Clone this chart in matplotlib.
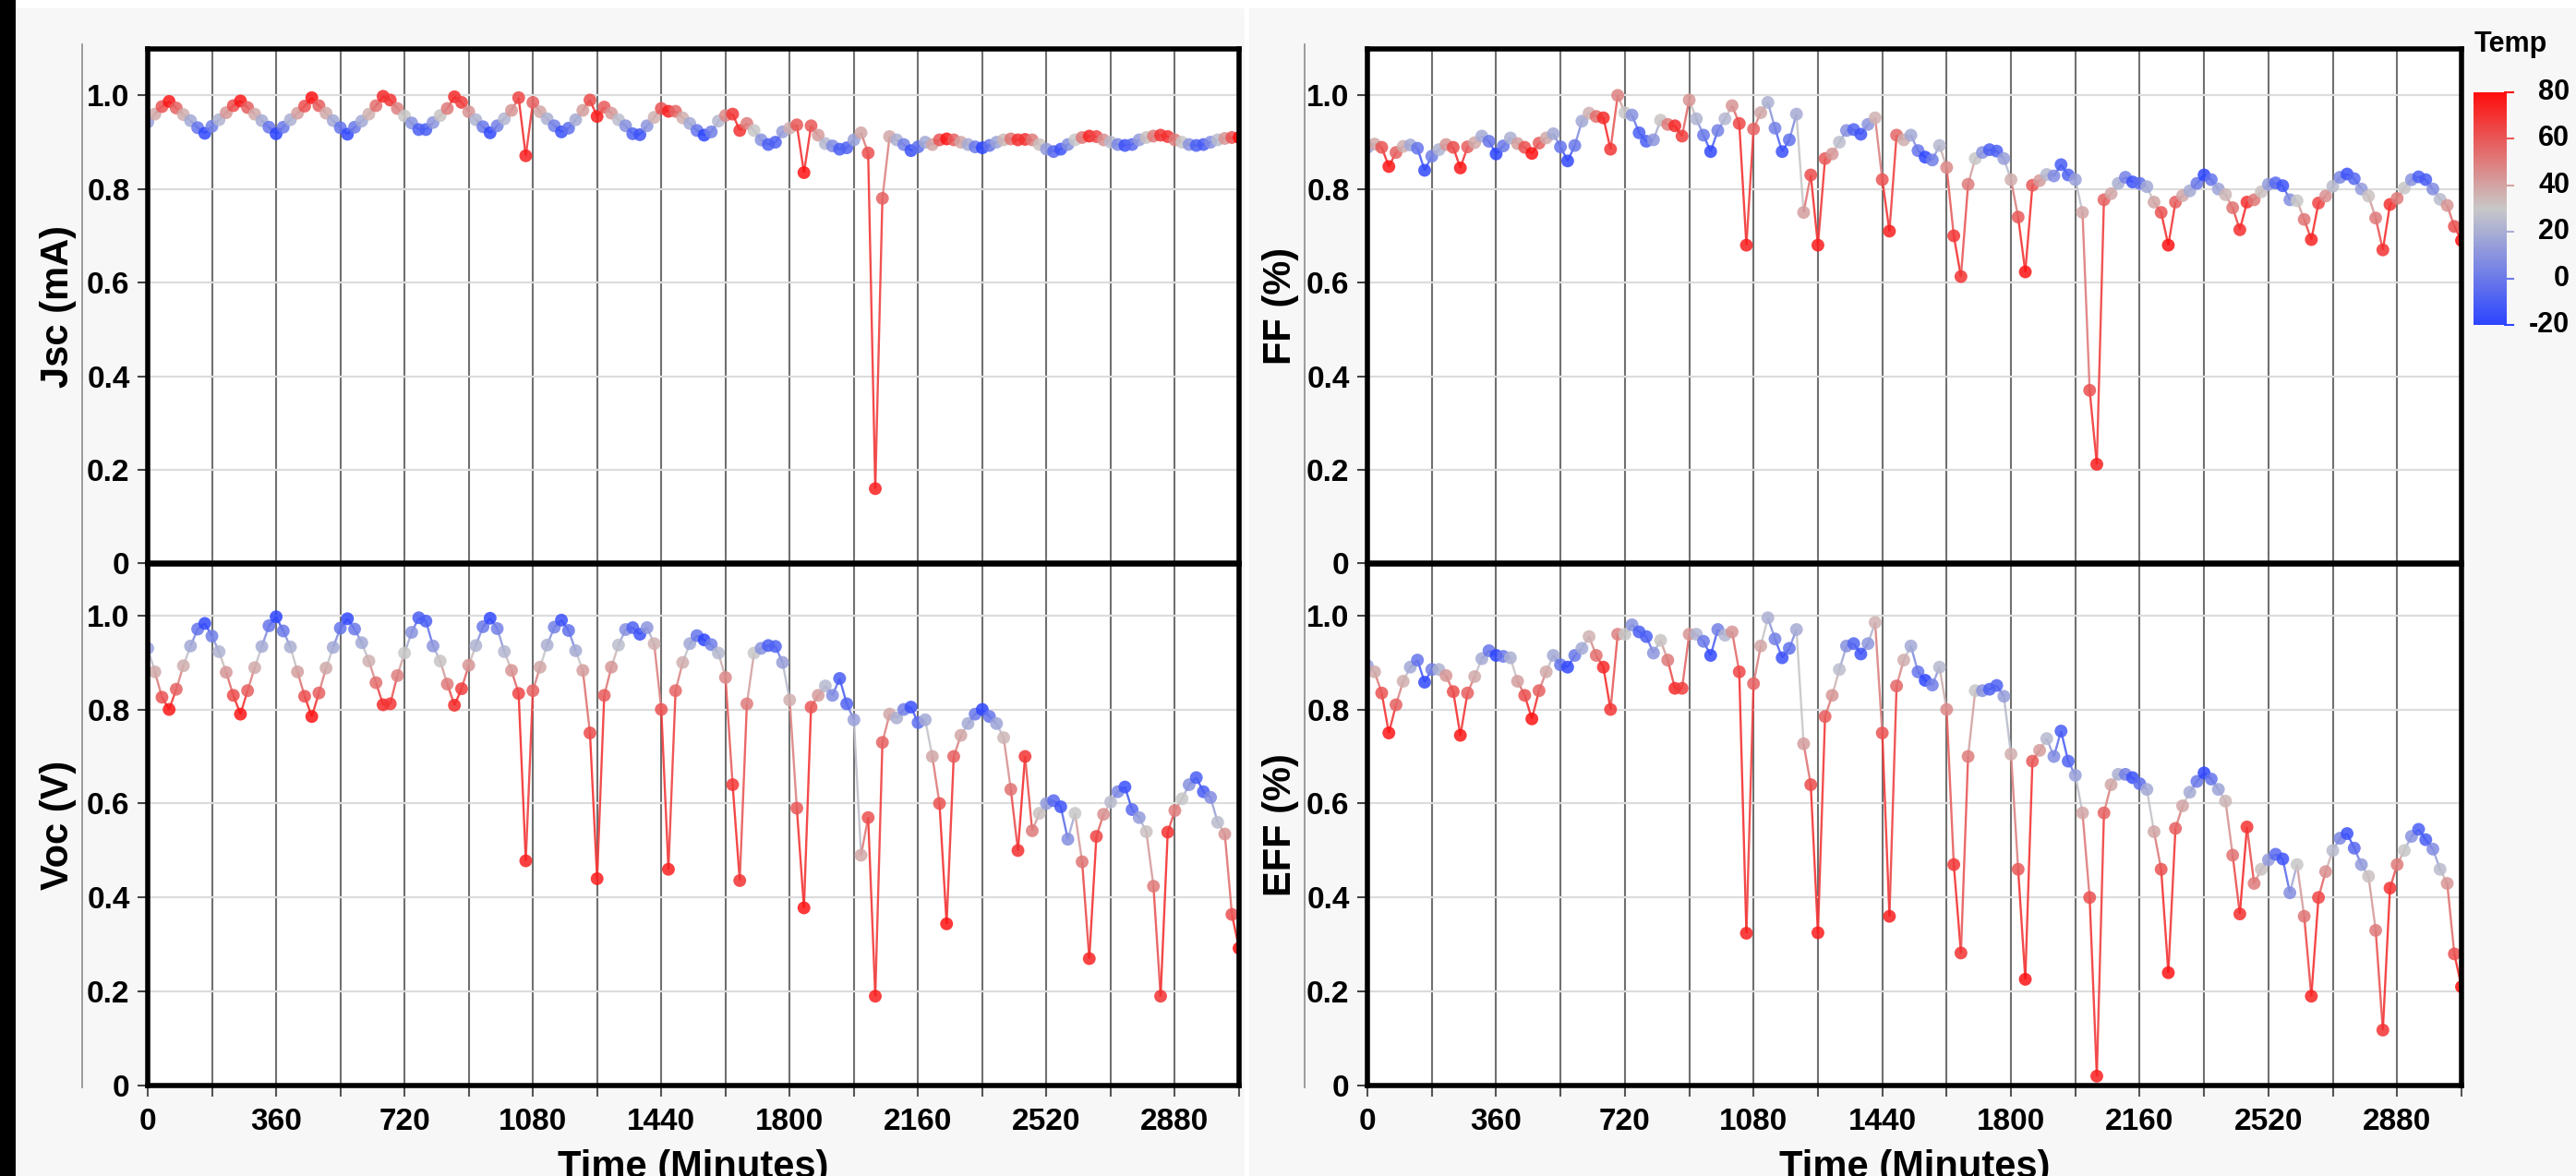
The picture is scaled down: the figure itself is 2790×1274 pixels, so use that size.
import numpy as np
import matplotlib
matplotlib.use("Agg")
import matplotlib.pyplot as plt
from matplotlib.collections import LineCollection
from matplotlib.colors import LinearSegmentedColormap, Normalize
from matplotlib.cm import ScalarMappable
from matplotlib.lines import Line2D
from matplotlib.patches import Rectangle
import matplotlib.transforms as mtransforms

# ---------------------------------------------------------------- data
# sampling times (minutes)
minutes = np.arange(0, 3061, 20)

# cell temperature (deg C) at each sample
temp = [
    15, 38, 61, 77, 57, 37, 18, -2, -18, 2,
    22, 43, 63, 77, 58, 38, 19, -1, -20, 0,
    21, 41, 62, 78, 58, 38, 18, -2, -18, 0,
    18, 36, 54, 72, 69, 49, 30, 10, -10, -10,
    11, 31, 51, 72, 67, 44, 22, 0, -18, 3,
    23, 44, 65, 75, 57, 39, 21, 3, -15, -3,
    19, 41, 63, 76, 59, 43, 26, 9, -8, -14,
    11, 36, 61, 75, 56, 37, 18, -1, -20, 2,
    24, 47, 69, 70, 50, 30, 10, -10, -9, 14,
    37, 60, 78, 60, 42, 24, 7, -11, -8, 15,
    39, 62, 75, 57, 39, 21, 3, -15, -4, 18,
    39, 61, 78, 58, 39, 19, 0, -20, -2, 16,
    35, 53, 71, 70, 51, 32, 13, -6, -14, 8,
    30, 52, 74, 65, 45, 25, 5, -15, -6, 13,
    32, 51, 70, 70, 50, 30, 10, -10, -11, 7,
    25, 44, 62, 80,
]

# normalised short-circuit current
jsc = [
    0.943, 0.960, 0.976, 0.987, 0.973, 0.959, 0.946, 0.931, 0.919, 0.934,
    0.948, 0.963, 0.978, 0.988, 0.974, 0.960, 0.946, 0.932, 0.918, 0.932,
    0.948, 0.962, 0.977, 0.995, 0.978, 0.962, 0.946, 0.931, 0.917, 0.932,
    0.945, 0.960, 0.978, 0.998, 0.990, 0.972, 0.956, 0.941, 0.927, 0.927,
    0.942, 0.957, 0.972, 0.997, 0.985, 0.965, 0.948, 0.933, 0.920, 0.935,
    0.950, 0.968, 0.995, 0.871, 0.985, 0.965, 0.950, 0.935, 0.922, 0.930,
    0.948, 0.968, 0.990, 0.955, 0.975, 0.962, 0.948, 0.935, 0.918, 0.916,
    0.935, 0.953, 0.972, 0.966, 0.966, 0.952, 0.940, 0.925, 0.915, 0.922,
    0.945, 0.957, 0.960, 0.925, 0.940, 0.925, 0.905, 0.895, 0.900, 0.922,
    0.930, 0.937, 0.835, 0.935, 0.915, 0.897, 0.892, 0.885, 0.888, 0.905,
    0.920, 0.877, 0.160, 0.780, 0.912, 0.905, 0.895, 0.882, 0.890, 0.900,
    0.895, 0.905, 0.907, 0.905, 0.900, 0.895, 0.890, 0.888, 0.893, 0.900,
    0.905, 0.907, 0.905, 0.906, 0.905, 0.895, 0.885, 0.880, 0.885, 0.895,
    0.905, 0.910, 0.913, 0.912, 0.905, 0.900, 0.895, 0.893, 0.895, 0.905,
    0.910, 0.913, 0.915, 0.912, 0.905, 0.900, 0.895, 0.893, 0.895, 0.900,
    0.905, 0.908, 0.910, 0.910,
]

# normalised open-circuit voltage
voc = [
    0.930, 0.880, 0.826, 0.800, 0.843, 0.893, 0.935, 0.971, 0.983, 0.956,
    0.923, 0.879, 0.830, 0.790, 0.840, 0.889, 0.934, 0.978, 0.997, 0.967,
    0.933, 0.880, 0.828, 0.785, 0.835, 0.888, 0.932, 0.973, 0.993, 0.971,
    0.942, 0.903, 0.857, 0.810, 0.812, 0.872, 0.920, 0.964, 0.995, 0.988,
    0.935, 0.903, 0.854, 0.809, 0.844, 0.894, 0.936, 0.976, 0.994, 0.972,
    0.923, 0.883, 0.834, 0.478, 0.840, 0.890, 0.937, 0.975, 0.990, 0.968,
    0.925, 0.883, 0.750, 0.440, 0.830, 0.890, 0.937, 0.970, 0.974, 0.960,
    0.974, 0.940, 0.800, 0.460, 0.840, 0.900, 0.940, 0.957, 0.948, 0.938,
    0.920, 0.868, 0.640, 0.436, 0.812, 0.920, 0.930, 0.936, 0.934, 0.900,
    0.820, 0.590, 0.378, 0.805, 0.830, 0.850, 0.830, 0.866, 0.812, 0.778,
    0.490, 0.570, 0.190, 0.730, 0.790, 0.782, 0.800, 0.805, 0.772, 0.778,
    0.700, 0.600, 0.344, 0.700, 0.745, 0.770, 0.790, 0.800, 0.785, 0.770,
    0.740, 0.630, 0.500, 0.700, 0.542, 0.579, 0.600, 0.606, 0.593, 0.524,
    0.579, 0.476, 0.270, 0.530, 0.577, 0.603, 0.625, 0.635, 0.587, 0.570,
    0.540, 0.424, 0.190, 0.539, 0.585, 0.610, 0.640, 0.655, 0.625, 0.613,
    0.560, 0.535, 0.364, 0.292,
]

# normalised fill factor
ff = [
    0.889, 0.896, 0.889, 0.848, 0.878, 0.891, 0.894, 0.887, 0.840, 0.870,
    0.884, 0.895, 0.889, 0.845, 0.890, 0.899, 0.913, 0.902, 0.875, 0.892,
    0.909, 0.897, 0.889, 0.876, 0.898, 0.909, 0.918, 0.890, 0.860, 0.893,
    0.945, 0.962, 0.955, 0.952, 0.885, 1.000, 0.963, 0.958, 0.920, 0.902,
    0.905, 0.947, 0.938, 0.935, 0.913, 0.990, 0.950, 0.915, 0.880, 0.925,
    0.950, 0.978, 0.940, 0.680, 0.928, 0.963, 0.985, 0.930, 0.880, 0.905,
    0.960, 0.750, 0.830, 0.680, 0.865, 0.875, 0.900, 0.925, 0.927, 0.917,
    0.938, 0.952, 0.820, 0.710, 0.915, 0.905, 0.915, 0.882, 0.868, 0.862,
    0.893, 0.846, 0.700, 0.613, 0.810, 0.865, 0.878, 0.884, 0.881, 0.865,
    0.820, 0.740, 0.623, 0.808, 0.818, 0.831, 0.828, 0.852, 0.830, 0.820,
    0.750, 0.370, 0.212, 0.777, 0.790, 0.812, 0.825, 0.815, 0.812, 0.805,
    0.772, 0.750, 0.680, 0.772, 0.786, 0.796, 0.812, 0.830, 0.820, 0.800,
    0.788, 0.760, 0.713, 0.772, 0.777, 0.794, 0.810, 0.813, 0.807, 0.777,
    0.775, 0.735, 0.692, 0.770, 0.785, 0.806, 0.825, 0.832, 0.822, 0.800,
    0.785, 0.738, 0.670, 0.767, 0.780, 0.802, 0.820, 0.826, 0.820, 0.800,
    0.778, 0.765, 0.720, 0.690,
]

# normalised efficiency
eff = [
    0.893, 0.880, 0.835, 0.750, 0.810, 0.860, 0.890, 0.905, 0.858, 0.885,
    0.885, 0.872, 0.838, 0.745, 0.835, 0.870, 0.908, 0.925, 0.915, 0.913,
    0.910, 0.860, 0.830, 0.780, 0.840, 0.880, 0.915, 0.895, 0.890, 0.915,
    0.930, 0.955, 0.915, 0.890, 0.800, 0.960, 0.960, 0.980, 0.965, 0.955,
    0.920, 0.947, 0.905, 0.845, 0.845, 0.960, 0.960, 0.945, 0.915, 0.970,
    0.958, 0.965, 0.880, 0.324, 0.855, 0.935, 0.995, 0.950, 0.910, 0.930,
    0.970, 0.727, 0.640, 0.325, 0.785, 0.830, 0.885, 0.935, 0.940, 0.918,
    0.940, 0.985, 0.750, 0.360, 0.850, 0.905, 0.935, 0.880, 0.862, 0.852,
    0.890, 0.800, 0.470, 0.282, 0.700, 0.840, 0.840, 0.843, 0.851, 0.828,
    0.705, 0.460, 0.226, 0.690, 0.713, 0.738, 0.700, 0.754, 0.690, 0.660,
    0.580, 0.400, 0.020, 0.580, 0.640, 0.662, 0.662, 0.655, 0.642, 0.630,
    0.540, 0.460, 0.240, 0.547, 0.595, 0.624, 0.647, 0.665, 0.652, 0.630,
    0.605, 0.490, 0.365, 0.550, 0.430, 0.460, 0.480, 0.492, 0.482, 0.410,
    0.470, 0.360, 0.190, 0.400, 0.455, 0.500, 0.526, 0.536, 0.505, 0.470,
    0.445, 0.330, 0.118, 0.420, 0.470, 0.500, 0.530, 0.545, 0.523, 0.503,
    0.460, 0.430, 0.280, 0.210,
]

xtick_pos = [0, 360, 720, 1080, 1440, 1800, 2160, 2520, 2880]
xtick_labels = ["0", "360", "720", "1080", "1440", "1800", "2160", "2520", "2880"]
ytick_pos = [0, 0.2, 0.4, 0.6, 0.8, 1.0]
ytick_labels = ["0", "0.2", "0.4", "0.6", "0.8", "1.0"]
cbar_ticks = [80, 60, 40, 20, 0, -20]

for name, arr in (("temp", temp), ("jsc", jsc), ("voc", voc), ("ff", ff), ("eff", eff)):
    assert len(arr) == len(minutes), (name, len(arr), len(minutes))

# ---------------------------------------------------------------- style
plt.rcParams["font.family"] = ["Liberation Sans", "DejaVu Sans"]
plt.rcParams["font.weight"] = "bold"

W, H, DPI = 2790, 1274, 100
fig = plt.figure(figsize=(W / DPI, H / DPI), dpi=DPI, facecolor="white")


def box(x0, y0, x1, y1):
    """pixel box (top-left origin) -> figure fraction [l, b, w, h]"""
    return [x0 / W, 1 - y1 / H, (x1 - x0) / W, (y1 - y0) / H]


def fx(x):
    return x / W


def fy(y):
    return 1 - y / H


# page background
for (x0, y0, x1, y1, col) in [(0, 0, 17, H, "black"),
                              (17, 9, 1348, H, "#f7f7f7"),
                              (1353, 9, W, H, "#f7f7f7")]:
    fig.add_artist(Rectangle((fx(x0), fy(y1)), (x1 - x0) / W, (y1 - y0) / H,
                             transform=fig.transFigure, facecolor=col,
                             edgecolor="none", zorder=-10))

# thin outer guide lines beside each column
for gx in (89, 1413):
    fig.add_artist(Line2D([fx(gx), fx(gx)], [fy(48), fy(1178)],
                          transform=fig.transFigure, color="#8c8c8c", lw=1.2))

cmap = LinearSegmentedColormap.from_list("temp", ["#2d45ff", "#c8c8c8", "#ff0d0d"])
norm = Normalize(vmin=-20, vmax=80)
temp_arr = np.asarray(temp, dtype=float)
grid_minor = np.arange(180, 3061, 360)


def panel(rect, values, ytop, bottom_labels):
    ax = fig.add_axes(rect)
    ax.set_facecolor("white")
    ax.set_xlim(0, 3060)
    ax.set_ylim(0, ytop)
    ax.set_axisbelow(True)

    ax.set_xticks(xtick_pos, xtick_labels if bottom_labels else [""] * len(xtick_pos))
    ax.set_xticks(grid_minor, minor=True)
    ax.set_yticks(ytick_pos, ytick_labels)
    ax.grid(which="both", axis="x", color="#707070", lw=1.5)
    ax.grid(which="major", axis="y", color="#dcdcdc", lw=1.6)

    tick_len = 8.6 if bottom_labels else 0
    ax.tick_params(axis="x", which="both", length=tick_len, width=1.5,
                   color="#555555", labelsize=24, pad=8.6)
    ax.tick_params(axis="y", length=8.0, width=1.5, color="#444444",
                   labelsize=24, pad=6.0)
    for lab in ax.get_xticklabels() + ax.get_yticklabels():
        lab.set_fontweight("bold")

    for sp in ax.spines.values():
        sp.set_linewidth(4.0)
        sp.set_color("black")

    y = np.asarray(values, dtype=float)
    pts = np.column_stack([minutes, y])
    segs = np.stack([pts[:-1], pts[1:]], axis=1)
    seg_cols = cmap(norm(0.5 * (temp_arr[:-1] + temp_arr[1:])))
    ax.add_collection(LineCollection(segs, colors=seg_cols, linewidths=1.7,
                                     alpha=0.9, zorder=2.1))
    ax.scatter(minutes, y, c=temp_arr, cmap=cmap, norm=norm, s=100,
               alpha=0.85, linewidths=0, zorder=2.2)
    return ax


ax_jsc = panel(box(160, 52.6, 1342, 610.5), jsc, 1.10, False)
ax_voc = panel(box(160, 610.7, 1342, 1176), voc, 1.11, True)
ax_ff = panel(box(1481, 52.6, 2666, 610.5), ff, 1.10, False)
ax_eff = panel(box(1481, 610.7, 2666, 1176), eff, 1.11, True)

# axis titles
ylabels = [("Jsc (mA)", 63, 331.5), ("Voc (V)", 63, 893.4),
           ("FF (%)", 1387, 331.5), ("EFF (%)", 1387, 893.4)]
for txt, x, y in ylabels:
    fig.text(fx(x), fy(y), txt, rotation=90, ha="center", va="center",
             fontsize=30, fontweight="bold")
for cx in (751, 2073.5):
    fig.text(fx(cx), fy(1276), "Time (Minutes)", ha="center", va="baseline",
             fontsize=30, fontweight="bold")

# colour bar
cax = fig.add_axes(box(2679, 100, 2715, 352))
cb = fig.colorbar(ScalarMappable(norm=norm, cmap=cmap), cax=cax)
cb.outline.set_visible(False)
cax.set_yticks([])
tick_tr = mtransforms.blended_transform_factory(cax.transAxes, cax.transData)
lab_tr = mtransforms.blended_transform_factory(fig.transFigure, cax.transData)
for v in cbar_ticks:
    cax.plot([0.95, 1.2], [v, v], transform=tick_tr, color=cmap(norm(v)),
             lw=1.5, clip_on=False)
    cax.text(fx(2783), v, str(v), transform=lab_tr, ha="right", va="center",
             fontsize=22, fontweight="bold")
fig.text(fx(2680), fy(56), "Temp", ha="left", va="baseline",
         fontsize=22, fontweight="bold")

fig.savefig("out.png", dpi=DPI, facecolor=fig.get_facecolor())
